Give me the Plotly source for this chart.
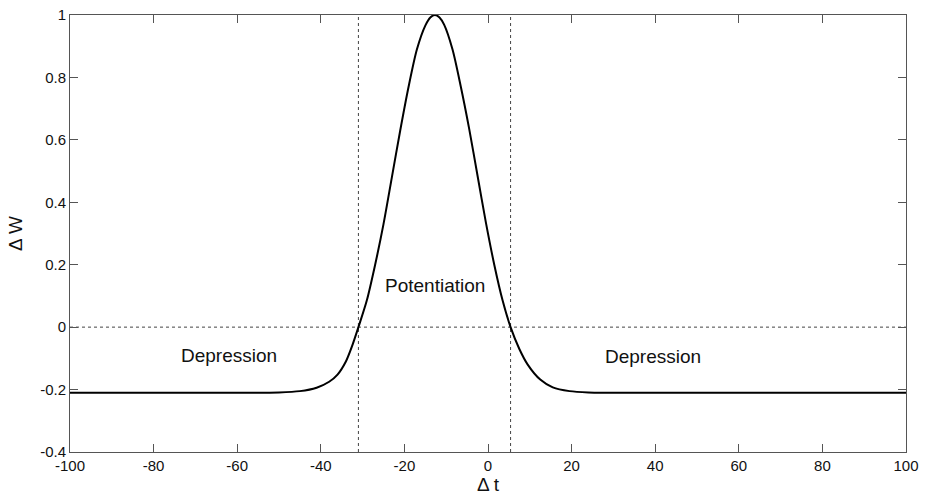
import plotly.graph_objects as go

# Curve readings (Δt, ΔW)
dt = [-100, -70, -50, -45, -41, -38, -36, -34, -32.5, -31, -29, -27, -25, -23, -21, -19, -17,
      -15, -13.8, -12.7, -11.6, -10.5, -8.5, -6.5, -4.5, -2.5, -0.5, 1.5, 3.5, 5.4, 7.5, 9.5,
      12.5, 15.5, 19.5, 24, 40, 70, 100]
dw = [-0.21, -0.21, -0.209, -0.205, -0.194, -0.175, -0.152, -0.11, -0.06, 0.0, 0.085, 0.2,
      0.33, 0.48, 0.63, 0.77, 0.89, 0.966, 0.992, 1.0, 0.992, 0.969, 0.89, 0.77, 0.635,
      0.485, 0.335, 0.2, 0.085, 0.0, -0.07, -0.12, -0.168, -0.193, -0.205, -0.209, -0.21,
      -0.21, -0.21]

# Zero-crossing markers
cross_x = [-31, 5.4]

# Region labels
label_text = ["Depression", "Potentiation", "Depression"]
label_x = [-62, -12.7, 39.5]
label_y = [-0.09, 0.135, -0.095]

x_ticks = [-100, -80, -60, -40, -20, 0, 20, 40, 60, 80, 100]
x_ticktext = ["-100", "-80", "-60", "-40", "-20", "0", "20", "40", "60", "80", "100"]
y_ticks = [-0.4, -0.2, 0, 0.2, 0.4, 0.6, 0.8, 1]
y_ticktext = ["-0.4", "-0.2", "0", "0.2", "0.4", "0.6", "0.8", "1"]

FONT = "Liberation Sans, Arial"

fig = go.Figure()

# dotted reference lines
fig.add_trace(go.Scatter(x=[-100, 100], y=[0, 0], mode="lines",
                         line=dict(color="#444444", width=1, dash="dot"),
                         showlegend=False, hoverinfo="skip"))
for cx in cross_x:
    fig.add_trace(go.Scatter(x=[cx, cx], y=[-0.4, 1], mode="lines",
                             line=dict(color="#444444", width=1, dash="dot"),
                             showlegend=False, hoverinfo="skip"))

fig.add_trace(go.Scatter(x=dt, y=dw, mode="lines",
                         line=dict(color="black", width=2, shape="spline", smoothing=0.8),
                         showlegend=False))

for t, x, y in zip(label_text, label_x, label_y):
    fig.add_annotation(x=x, y=y, text=t, showarrow=False,
                       font=dict(family=FONT, size=19, color="#111111"))

axis_common = dict(showgrid=False, zeroline=False, showline=True, mirror="ticks",
                   linecolor="#555555", linewidth=1, ticks="inside", ticklen=8,
                   tickcolor="#555555", automargin=False,
                   tickfont=dict(family=FONT, size=15, color="#111111"))

fig.update_xaxes(range=[-100, 100], tickvals=x_ticks, ticktext=x_ticktext,
                 title=dict(text="Δ t", font=dict(family=FONT, size=19, color="#111111"),
                            standoff=4),
                 **axis_common)
fig.update_yaxes(range=[-0.4, 1], tickvals=y_ticks, ticktext=y_ticktext,
                 title=dict(text="Δ W", font=dict(family=FONT, size=19, color="#111111"),
                            standoff=12),
                 **axis_common)

fig.update_layout(width=928, height=498, paper_bgcolor="white", plot_bgcolor="white",
                  margin=dict(l=70, r=22, t=15, b=46))

fig.write_html("out.html")
